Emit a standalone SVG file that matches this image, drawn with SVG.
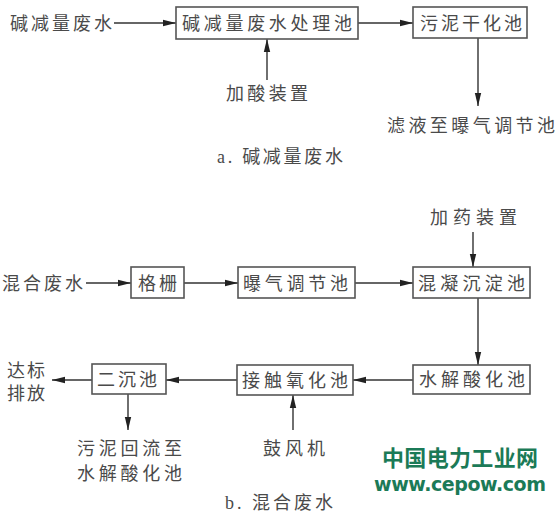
<svg xmlns="http://www.w3.org/2000/svg" width="560" height="514" viewBox="0 0 560 514">
<style>
text{font-family:"Liberation Serif","Noto Sans CJK SC",serif;font-size:18px;fill:#4a4a4a}
.box{fill:#fff;stroke:#555;stroke-width:1.6}
.ln{stroke:#333;stroke-width:1.4;fill:none;marker-end:url(#ah)}
.wm{fill:#1b7a57;font-weight:bold}
</style>
<defs>
<marker id="ah" markerWidth="14" markerHeight="8" refX="13" refY="4" orient="auto" markerUnits="userSpaceOnUse">
<path d="M0,0.8 L13,4 L0,7.2 Z" fill="#222"/>
</marker>
</defs>
<rect width="560" height="514" fill="#fff"/>
<g id="connectors">
<line class="ln" x1="114" y1="23" x2="176" y2="23"/>
<line class="ln" x1="358" y1="23" x2="413" y2="23"/>
<line class="ln" x1="267" y1="80" x2="267" y2="39"/>
<line class="ln" x1="478" y1="38" x2="478" y2="106"/>
<line class="ln" x1="473" y1="232" x2="473" y2="267"/>
<line class="ln" x1="86" y1="283" x2="131" y2="283"/>
<line class="ln" x1="184" y1="283" x2="238" y2="283"/>
<line class="ln" x1="355" y1="283" x2="413" y2="283"/>
<line class="ln" x1="478" y1="298" x2="478" y2="365"/>
<line class="ln" x1="413" y1="380" x2="353" y2="380"/>
<line class="ln" x1="237" y1="380" x2="166" y2="380"/>
<line class="ln" x1="92" y1="380" x2="52" y2="380"/>
<line class="ln" x1="128" y1="394" x2="128" y2="430"/>
<line class="ln" x1="293" y1="430" x2="293" y2="395"/>
</g>
<g id="src-a"><text x="10" y="30" textLength="102">碱减量废水</text></g>
<g id="n-a1"><rect class="box" x="176" y="7" width="182" height="32"/><text x="182" y="30" textLength="170">碱减量废水处理池</text></g>
<g id="n-a2"><rect class="box" x="413" y="7" width="114" height="31"/><text x="420" y="30" textLength="102">污泥干化池</text></g>
<g id="acid"><text x="226" y="100" textLength="82">加酸装置</text></g>
<g id="filt"><text x="387" y="132" textLength="168">滤液至曝气调节池</text></g>
<text x="217" y="163" textLength="126">a. 碱减量废水</text>
<g id="dose"><text x="430" y="224" textLength="87">加药装置</text></g>
<g id="src-b"><text x="2" y="290" textLength="81">混合废水</text></g>
<g id="n-b1"><rect class="box" x="131" y="267" width="53" height="31"/><text x="138" y="290" textLength="39">格栅</text></g>
<g id="n-b2"><rect class="box" x="238" y="267" width="117" height="31"/><text x="243" y="290" textLength="105">曝气调节池</text></g>
<g id="n-b3"><rect class="box" x="413" y="267" width="117" height="31"/><text x="418" y="290" textLength="107">混凝沉淀池</text></g>
<g id="n-b4"><rect class="box" x="413" y="365" width="117" height="29"/><text x="419" y="386" textLength="106">水解酸化池</text></g>
<g id="n-b5"><rect class="box" x="237" y="365" width="116" height="30"/><text x="242" y="387" textLength="106">接触氧化池</text></g>
<g id="n-b6"><rect class="box" x="92" y="364" width="74" height="30"/><text x="97" y="386" textLength="60">二沉池</text></g>
<g id="out"><text x="7" y="377" textLength="38">达标</text><text x="7" y="400" textLength="38">排放</text></g>
<g id="sludge"><text x="77" y="455" textLength="105">污泥回流至</text><text x="77" y="480" textLength="105">水解酸化池</text></g>
<g id="blower"><text x="263" y="455" textLength="62">鼓风机</text></g>
<text x="225" y="509" textLength="108">b. 混合废水</text>
<text class="wm" x="382" y="466" textLength="156" style="font-family:'Noto Sans CJK SC',sans-serif;font-size:22px">中国电力工业网</text>
<text class="wm" x="374" y="491" textLength="172" style="font-size:19px;font-family:'DejaVu Sans',sans-serif">www.cepow.com</text>
</svg>
